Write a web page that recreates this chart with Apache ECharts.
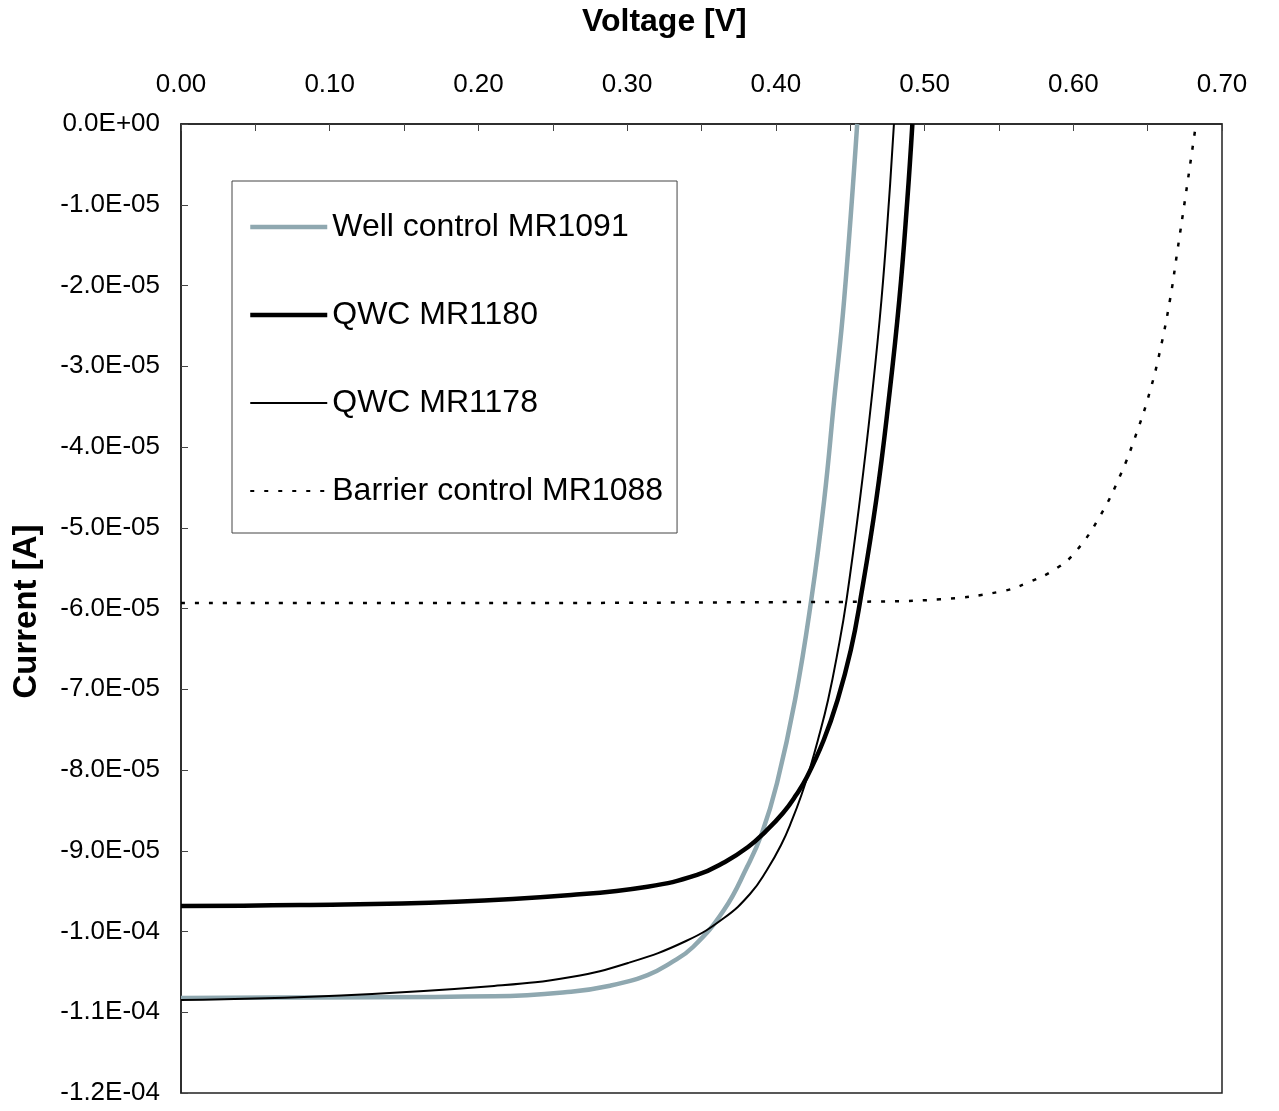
<!DOCTYPE html>
<html>
<head>
<meta charset="utf-8">
<script src="https://cdn.jsdelivr.net/npm/echarts@6/dist/echarts.min.js"></script>
<style>
  html, body { margin: 0; padding: 0; background: #fff; }
  #ivChart { width: 1279px; height: 1111px; }
</style>
</head>
<body>
<div id="ivChart"></div>
<script>
// values, voltage in V, current in A
var wellV = [0, 0.0800, 0.2105, 0.2623, 0.2885, 0.3137, 0.3288, 0.3443, 0.3651, 0.3806, 0.3907, 0.4008, 0.4129, 0.4238, 0.4325, 0.4392, 0.4459, 0.4547];
var wellI = [-10.824e-5, -10.817e-5, -10.802e-5, -10.745e-5, -10.671e-5, -10.539e-5, -10.394e-5, -10.192e-5, -9.734e-5, -9.201e-5, -8.780e-5, -8.161e-5, -7.133e-5, -5.895e-5, -4.656e-5, -3.418e-5, -2.180e-5, 0];

var qwc1180V = [0, 0.0800, 0.1849, 0.2623, 0.3137, 0.3470, 0.3658, 0.3813, 0.3927, 0.4048, 0.4136, 0.4209, 0.4322, 0.4415, 0.4504, 0.4568, 0.4675, 0.4759, 0.4830, 0.4884, 0.4918];
var qwc1180I = [-9.684e-5, -9.672e-5, -9.631e-5, -9.548e-5, -9.445e-5, -9.300e-5, -9.139e-5, -8.954e-5, -8.768e-5, -8.533e-5, -8.310e-5, -8.087e-5, -7.628e-5, -7.133e-5, -6.514e-5, -5.895e-5, -4.656e-5, -3.418e-5, -2.180e-5, -0.941e-5, 0];

var qwc1178V = [0, 0.1076, 0.2105, 0.2623, 0.3006, 0.3396, 0.3651, 0.3826, 0.3940, 0.4035, 0.4109, 0.4172, 0.4226, 0.4283, 0.4351, 0.4418, 0.4475, 0.4565, 0.4643, 0.4710, 0.4761, 0.4794];
var qwc1178I = [-10.848e-5, -10.792e-5, -10.675e-5, -10.563e-5, -10.390e-5, -10.118e-5, -9.833e-5, -9.536e-5, -9.238e-5, -8.929e-5, -8.619e-5, -8.310e-5, -8.000e-5, -7.628e-5, -7.133e-5, -6.514e-5, -5.895e-5, -4.656e-5, -3.418e-5, -2.180e-5, -0.941e-5, 0];

var barrierV = [0, 0.2145, 0.4162, 0.4566, 0.5104, 0.5507, 0.5689, 0.5891, 0.6025, 0.6180, 0.6314, 0.6428, 0.6516, 0.6583, 0.6650, 0.6701, 0.6751, 0.6795, 0.6825];
var barrierI = [-5.932e-5, -5.932e-5, -5.920e-5, -5.916e-5, -5.886e-5, -5.792e-5, -5.684e-5, -5.498e-5, -5.276e-5, -4.854e-5, -4.359e-5, -3.814e-5, -3.307e-5, -2.811e-5, -2.180e-5, -1.560e-5, -0.941e-5, -0.384e-5, 0];

var seriesNames = ['Well control MR1091', 'QWC MR1180', 'QWC MR1178', 'Barrier control MR1088'];

var FONT = 'Liberation Sans, Arial, Helvetica, sans-serif';
var GREY = '#8FA8B0';

function pairs(xs, ys) {
    var out = [];
    for (var i = 0; i < xs.length; i++) out.push([xs[i], ys[i]]);
    return out;
}

// 0.0E+00 style labels, like the spreadsheet axis
function sciLabel(v) {
    var s = v.toExponential(1).split('e');
    var exp = parseInt(s[1], 10);
    var sign = exp < 0 ? '-' : '+';
    var e = Math.abs(exp);
    return s[0] + 'E' + sign + (e < 10 ? '0' + e : e);
}

var noMarker = {color: 'transparent', borderWidth: 0, opacity: 0};

var option = {
    animation: false,
    backgroundColor: '#fff',
    textStyle: {fontFamily: FONT},
    title: {
        text: 'Voltage [V]',
        left: 577,
        top: 1,
        textStyle: {fontSize: 32, fontWeight: 'bold', color: '#000', fontFamily: FONT}
    },
    legend: {
        orient: 'vertical',
        left: 232,
        top: 181,
        padding: [30, 14, 26, 16],
        itemWidth: 77,
        itemHeight: 30,
        itemGap: 56,
        backgroundColor: '#fff',
        borderColor: '#444',
        borderWidth: 1,
        textStyle: {fontSize: 32, color: '#000', fontFamily: FONT, lineHeight: 32},
        data: [
            {name: seriesNames[0], itemStyle: noMarker, lineStyle: {color: GREY, width: 4.5}},
            {name: seriesNames[1], itemStyle: noMarker, lineStyle: {color: '#000', width: 4.5}},
            {name: seriesNames[2], itemStyle: noMarker, lineStyle: {color: '#000', width: 2}},
            {name: seriesNames[3], itemStyle: noMarker, lineStyle: {color: '#000', width: 2, type: [4, 10]}}
        ]
    },
    grid: {
        left: 181,
        right: 57,
        top: 124,
        bottom: 18,
        show: true,
        borderColor: '#222',
        borderWidth: 1.5,
        outerBoundsMode: 'none'
    },
    xAxis: {
        type: 'value',
        position: 'top',
        min: 0,
        max: 0.7,
        interval: 0.1,
        axisLine: {onZero: false, lineStyle: {color: '#222', width: 1.5}},
        axisTick: {inside: true, length: 7, lineStyle: {color: '#444'}},
        minorTick: {show: true, splitNumber: 2, length: 7, lineStyle: {color: '#444'}},
        splitLine: {show: false},
        axisLabel: {
            fontSize: 26,
            color: '#000',
            margin: 26,
            fontFamily: FONT,
            formatter: function (v) { return v.toFixed(2); }
        }
    },
    yAxis: {
        type: 'value',
        min: -1.2e-4,
        max: 0,
        interval: 1e-5,
        name: 'Current [A]',
        nameLocation: 'middle',
        nameRotate: 90,
        nameGap: 138,
        nameTextStyle: {fontSize: 33, fontWeight: 'bold', color: '#000', fontFamily: FONT, padding: [0, 6, 0, 0]},
        axisLine: {onZero: false, lineStyle: {color: '#222', width: 1.5}},
        axisTick: {inside: true, length: 7, lineStyle: {color: '#444'}},
        splitLine: {show: false},
        axisLabel: {
            fontSize: 26,
            color: '#000',
            margin: 21,
            fontFamily: FONT,
            formatter: sciLabel
        }
    },
    series: [
        {
            name: seriesNames[0],
            type: 'line',
            symbol: 'none',
            smooth: 0.45,
            color: GREY,
            lineStyle: {color: GREY, width: 4.5},
            data: pairs(wellV, wellI)
        },
        {
            name: seriesNames[1],
            type: 'line',
            symbol: 'none',
            smooth: 0.45,
            color: '#000',
            lineStyle: {color: '#000', width: 4.5},
            data: pairs(qwc1180V, qwc1180I)
        },
        {
            name: seriesNames[2],
            type: 'line',
            symbol: 'none',
            smooth: 0.45,
            color: '#000',
            lineStyle: {color: '#000', width: 2},
            data: pairs(qwc1178V, qwc1178I)
        },
        {
            name: seriesNames[3],
            type: 'line',
            symbol: 'none',
            smooth: 0.45,
            color: '#000',
            lineStyle: {color: '#000', width: 2.5, type: [4, 10], cap: 'butt'},
            data: pairs(barrierV, barrierI)
        }
    ]
};

var chart = echarts.init(document.getElementById('ivChart'), null, {renderer: 'canvas'});
chart.setOption(option);
</script>
</body>
</html>
